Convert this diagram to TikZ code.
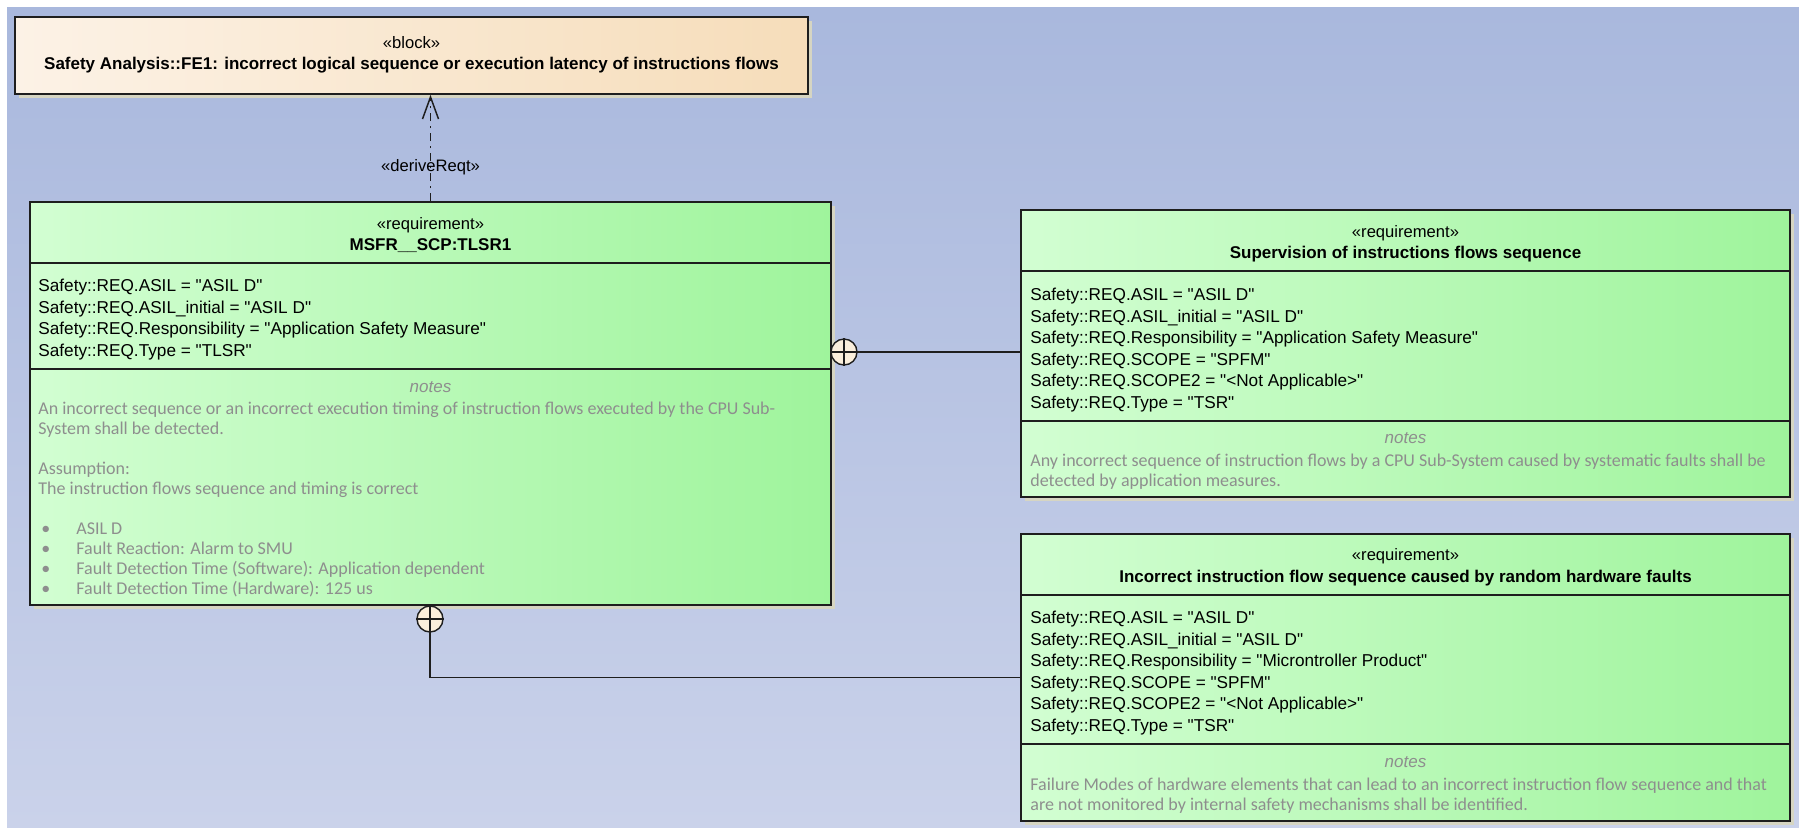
\documentclass[tikz,border=0pt]{standalone}
\usepackage{fontspec}
\setmainfont{Liberation Sans}[Ligatures=TeXOff]
\newfontfamily\notesfont{Carlito}
\usetikzlibrary{arrows.meta, positioning, fit, shadows, calc}
\definecolor{bgtop}{HTML}{A9B8DD}
\definecolor{bgbot}{HTML}{CAD2EA}
\definecolor{reqleft}{HTML}{D2FED2}
\definecolor{reqright}{HTML}{9FF49C}
\definecolor{blockleft}{HTML}{FCF2E6}
\definecolor{blockright}{HTML}{F6DDBA}
\definecolor{edgeline}{HTML}{1E1E1E}
\definecolor{notegrey}{HTML}{8E8E8E}
\definecolor{shadowtan}{HTML}{D6D5C2}
\definecolor{nestfill}{HTML}{FBEFDC}

\begin{document}
\begin{tikzpicture}[
  x=0.5pt, y=-0.5pt,
  umlbox/.style={
    draw=edgeline, line width=0.8pt, inner sep=0pt,
    drop shadow={shadow xshift=1.8pt, shadow yshift=-1.8pt, fill=shadowtan, opacity=1},
  },
  reqbox/.style={umlbox, left color=reqleft, right color=reqright},
  blockbox/.style={umlbox, left color=blockleft, right color=blockright},
  stereo/.style={anchor=base, inner sep=0pt, font=\fontsize{8.3pt}{10pt}\selectfont},
  boxname/.style={anchor=base, inner sep=0pt, font=\fontsize{8.5pt}{10pt}\selectfont\bfseries},
  attrs/.style={anchor=base west, align=left, inner sep=0pt, font=\fontsize{8.6pt}{10.75pt}\selectfont},
  notehead/.style={anchor=base, inner sep=0pt, text=notegrey, font=\fontsize{8.5pt}{10pt}\selectfont\itshape},
  notetext/.style={anchor=base west, align=left, inner sep=0pt, text=notegrey, font=\notesfont\fontsize{9pt}{10pt}\selectfont},
  nest/.style={circle, draw=edgeline, line width=0.7pt, fill=nestfill, minimum size=13pt, inner sep=0pt},
  link/.style={draw=edgeline, line width=0.75pt},
  derive/.style={link, dash pattern=on 4pt off 2.5pt on 1pt off 2.5pt,
    -{Straight Barb[length=11pt, width=8pt, line width=0.75pt]}},
]

% canvas
\useasboundingbox (0,0) rectangle (1799,827);
\fill[white] (0,0) rectangle (1799,827);
\shade[top color=bgtop, bottom color=bgbot] (7,7) rectangle (1799,827);

% boxes
\node[blockbox, fit={(15,17) (808,94)}] (fe) {};
\node[reqbox, fit={(30,202) (831,605)}] (main) {};
\node[reqbox, fit={(1021,210) (1790,497)}] (sup) {};
\node[reqbox, fit={(1021,534) (1790,821)}] (hw) {};

% compartments
\draw[link] (main.west |- 0,263) -- (main.east |- 0,263);
\draw[link] (main.west |- 0,369) -- (main.east |- 0,369);
\draw[link] (sup.west |- 0,271) -- (sup.east |- 0,271);
\draw[link] (sup.west |- 0,421) -- (sup.east |- 0,421);
\draw[link] (hw.west |- 0,595) -- (hw.east |- 0,595);
\draw[link] (hw.west |- 0,744) -- (hw.east |- 0,744);

% block
\node[stereo] (feSt) at (fe.north |- 0,48) {«block»};
\node[boxname] (feName) at (fe.north |- 0,69) {Safety Analysis::FE1: incorrect logical sequence or execution latency of instructions flows};

% main requirement
\node[stereo] (mainSt) at (main.north |- 0,229) {«requirement»};
\node[boxname] (mainName) at (main.north |- 0,250) {MSFR\_\_SCP:TLSR1};
\node[attrs] (mainAttr) at (38,356) {Safety::REQ.ASIL = "ASIL D"\\
  Safety::REQ.ASIL\_initial = "ASIL D"\\
  Safety::REQ.Responsibility = "Application Safety Measure"\\
  Safety::REQ.Type = "TLSR"};
\node[notehead] (mainNh) at (main.north |- 0,392) {notes};
\node[notetext] (mainNote) at (38,594) {An incorrect sequence or an incorrect execution timing of instruction flows executed by the CPU Sub-\\
  System shall be detected.\\[10pt]
  Assumption:\\
  The instruction flows sequence and timing is correct\\[10pt]
  \hspace*{1.5pt}\makebox[17.5pt][l]{•}ASIL D\\
  \hspace*{1.5pt}\makebox[17.5pt][l]{•}Fault Reaction: Alarm to SMU\\
  \hspace*{1.5pt}\makebox[17.5pt][l]{•}Fault Detection Time (Software): Application dependent\\
  \hspace*{1.5pt}\makebox[17.5pt][l]{•}Fault Detection Time (Hardware): 125 us};

% supervision requirement
\node[stereo] (supSt) at (sup.north |- 0,237) {«requirement»};
\node[boxname] (supName) at (sup.north |- 0,258) {Supervision of instructions flows sequence};
\node[attrs] (supAttr) at (1030,408) {Safety::REQ.ASIL = "ASIL D"\\
  Safety::REQ.ASIL\_initial = "ASIL D"\\
  Safety::REQ.Responsibility = "Application Safety Measure"\\
  Safety::REQ.SCOPE = "SPFM"\\
  Safety::REQ.SCOPE2 = "<Not Applicable>"\\
  Safety::REQ.Type = "TSR"};
\node[notehead] (supNh) at (sup.north |- 0,443) {notes};
\node[notetext] (supNote) at (1030,486) {Any incorrect sequence of instruction flows by a CPU Sub-System caused by systematic faults shall be\\
  detected by application measures.};

% hardware requirement
\node[stereo] (hwSt) at (hw.north |- 0,560) {«requirement»};
\node[boxname] (hwName) at (hw.north |- 0,582) {Incorrect instruction flow sequence caused by random hardware faults};
\node[attrs] (hwAttr) at (1030,731) {Safety::REQ.ASIL = "ASIL D"\\
  Safety::REQ.ASIL\_initial = "ASIL D"\\
  Safety::REQ.Responsibility = "Microntroller Product"\\
  Safety::REQ.SCOPE = "SPFM"\\
  Safety::REQ.SCOPE2 = "<Not Applicable>"\\
  Safety::REQ.Type = "TSR"};
\node[notehead] (hwNh) at (hw.north |- 0,767) {notes};
\node[notetext] (hwNote) at (1030,810) {Failure Modes of hardware elements that can lead to an incorrect instruction flow sequence and that\\
  are not monitored by internal safety mechanisms shall be identified.};

% connectors
\draw[derive] (main.north) -- (main.north |- fe.south);
\node[stereo] (deriveLbl) at (main.north |- 0,171) {«deriveReqt»};

\node[nest] (nestA) at (844,352) {};
\node[nest] (nestB) at (430,619) {};
\draw[link] (nestA.north) -- (nestA.south) (nestA.west) -- (nestA.east);
\draw[link] (nestB.north) -- (nestB.south) (nestB.west) -- (nestB.east);
\draw[link] (nestA.east) -- (nestA.east -| sup.west);
\draw[link] (nestB.south) |- (hw.west);

\end{tikzpicture}
\end{document}
